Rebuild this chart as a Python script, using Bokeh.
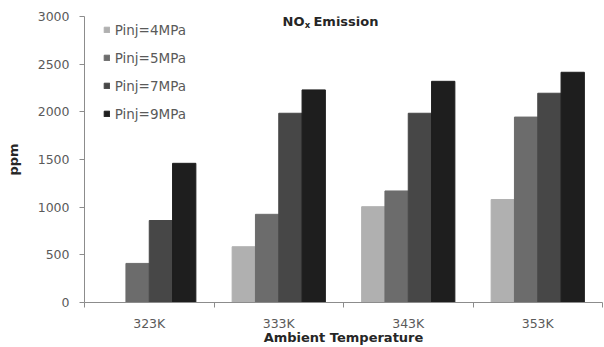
from bokeh.plotting import figure
from bokeh.models import (Range1d, FixedTicker, Legend, LegendItem, Label, ColumnDataSource)
from bokeh.transform import dodge
from bokeh.embed import file_html
from bokeh.resources import INLINE

# NOx emission (ppm) versus ambient temperature for four injection pressures
temperatures = ["323K", "333K", "343K", "353K"]
series_names = ["Pinj=4MPa", "Pinj=5MPa", "Pinj=7MPa", "Pinj=9MPa"]
pinj_4mpa = [0, 585, 1005, 1080]
pinj_5mpa = [410, 925, 1170, 1945]
pinj_7mpa = [860, 1985, 1985, 2195]
pinj_9mpa = [1460, 2230, 2320, 2415]
y_ticks = [0, 500, 1000, 1500, 2000, 2500, 3000]

series_values = [pinj_4mpa, pinj_5mpa, pinj_7mpa, pinj_9mpa]
colors = ["#b0b0b0", "#6c6c6c", "#474747", "#1e1e1e"]
offsets = [-0.27, -0.09, 0.09, 0.27]
bar_width = 0.18

# each category occupies one unit; its centre sits at index + 0.5
n_cat = len(temperatures)
centers = [i + 0.5 for i in range(n_cat)]
boundaries = list(range(n_cat + 1))

FONT = "DejaVu Sans"
TICK_COLOR = "#5a5a5a"
AXIS_COLOR = "#8c8c8c"
LABEL_COLOR = "#262626"

p = figure(width=604, height=347,
           x_range=Range1d(0, n_cat), y_range=Range1d(0, 3000),
           x_axis_location="below", y_axis_location="left",
           output_backend="svg", toolbar_location=None,
           min_border_left=84, min_border_right=2, min_border_top=16, min_border_bottom=45)
p.outline_line_color = None
p.grid.grid_line_color = None
p.background_fill_color = "white"
p.border_fill_color = "white"

# y axis
yax = p.yaxis[0]
yax.ticker = FixedTicker(ticks=y_ticks)
yax.major_tick_out = 5
yax.major_tick_in = 0
yax.minor_tick_line_color = None
yax.axis_line_color = AXIS_COLOR
yax.major_tick_line_color = AXIS_COLOR
yax.major_label_text_font = FONT
yax.major_label_text_font_size = "12.5px"
yax.major_label_text_color = TICK_COLOR
yax.major_label_standoff = 10
yax.axis_label = "ppm"
yax.axis_label_text_font = FONT
yax.axis_label_text_font_size = "13px"
yax.axis_label_text_font_style = "bold"
yax.axis_label_text_color = LABEL_COLOR
yax.axis_label_standoff = 14

# x axis: labels on the category centres, tick marks on the category boundaries
xax = p.xaxis[0]
xax.ticker = FixedTicker(ticks=centers, minor_ticks=boundaries)
xax.major_label_overrides = {c: t for c, t in zip(centers, temperatures)}
xax.axis_line_color = AXIS_COLOR
xax.major_tick_line_color = None
xax.major_tick_out = 0
xax.major_tick_in = 0
xax.minor_tick_line_color = AXIS_COLOR
xax.minor_tick_out = 5
xax.minor_tick_in = 0
xax.major_label_standoff = 8
xax.major_label_text_font = FONT
xax.major_label_text_font_size = "12.5px"
xax.major_label_text_color = TICK_COLOR
xax.axis_label = "Ambient Temperature"
xax.axis_label_text_font = FONT
xax.axis_label_text_font_size = "13px"
xax.axis_label_text_font_style = "bold"
xax.axis_label_text_color = LABEL_COLOR
xax.axis_label_standoff = -4

# bars
legend_items = []
for name, vals, color, off in zip(series_names, series_values, colors, offsets):
    src = ColumnDataSource(dict(x=centers, top=vals))
    r = p.vbar(x=dodge("x", off), top="top", width=bar_width,
               source=src, fill_color=color, line_color=color)
    legend_items.append(LegendItem(label=name, renderers=[r]))

legend = Legend(items=legend_items, location=(18.7, 180.3),
                glyph_width=7, glyph_height=7, label_height=14,
                spacing=12, padding=0, margin=0, label_standoff=5,
                border_line_color=None, background_fill_alpha=0,
                label_text_font=FONT, label_text_font_size="13.5px",
                label_text_color=TICK_COLOR)
p.add_layout(legend)

# chart title with a subscripted x
title_font = dict(text_font=FONT, text_font_style="bold", text_color=LABEL_COLOR,
                  text_baseline="alphabetic")
p.add_layout(Label(x=1.529, y=2951, text="NO", text_font_size="13px", **title_font))
p.add_layout(Label(x=1.700, y=2915, text="x", text_font_size="8.5px", **title_font))
p.add_layout(Label(x=1.768, y=2951, text="Emission", text_font_size="13px", **title_font))

open("out.html", "w").write(file_html(p, INLINE))
